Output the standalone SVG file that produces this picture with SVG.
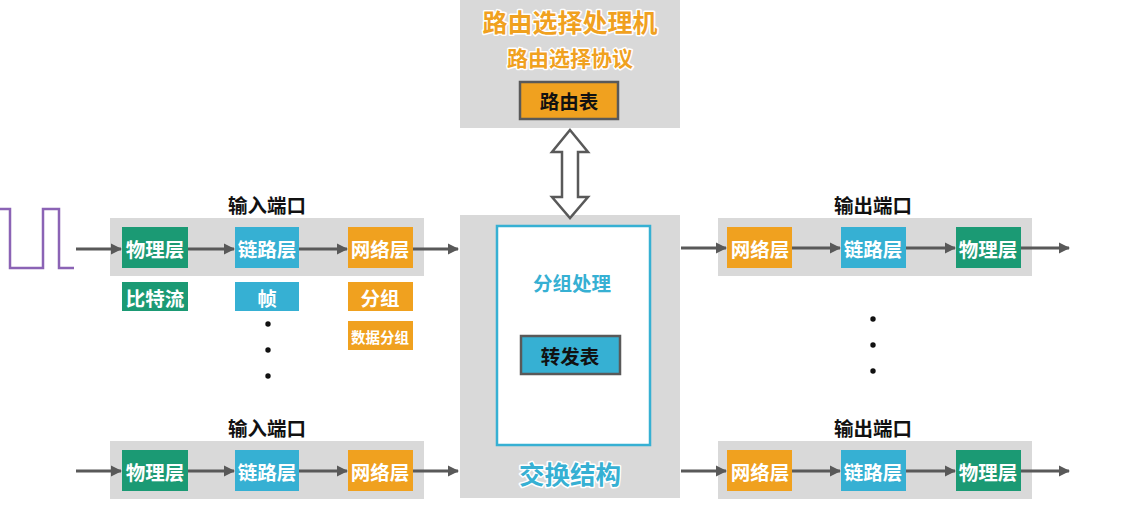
<svg xmlns="http://www.w3.org/2000/svg" width="1145" height="505" viewBox="0 0 1145 505">
<defs>
<style>
text{font-family:"Noto Sans CJK SC","Noto Sans",sans-serif;font-weight:bold;text-anchor:middle;dominant-baseline:central}
.port{fill:#d9d9d9}
.g{fill:#1b9a74}
.b{fill:#36b0d3}
.o{fill:#f0a11f}
.wt{fill:#ffffff;font-size:19.5px}
.sm{font-size:14.5px}
.lbl{fill:#111;font-size:19.5px}
.conn{stroke:#595959;stroke-width:2.8;fill:none;marker-end:url(#ah)}
.glowO{fill:#f0a11f;stroke:#ffffff;stroke-width:3;paint-order:stroke;stroke-linejoin:round}
.glowB{fill:#36b0d3;stroke:#ffffff;stroke-width:3;paint-order:stroke;stroke-linejoin:round}
.tbl{stroke:#595959;stroke-width:2.5}
.dot{fill:#111}
</style>
<marker id="ah" viewBox="0 0 10 10" refX="9" refY="5" markerWidth="4" markerHeight="4" orient="auto" markerUnits="strokeWidth">
<path d="M0,0 L10,5 L0,10 z" fill="#595959"/>
</marker>
</defs>
<rect width="1145" height="505" fill="#ffffff"/>

<!-- signal waveform -->
<path id="signal" d="M0,209 H10 V268 H43 V209 H59 V268 H74" fill="none" stroke="#8b63b5" stroke-width="2.5"/>

<!-- routing processor -->
<g id="router">
<rect x="460" y="0" width="220" height="128" class="port"/>
<text x="570" y="21" class="glowO" font-size="25">路由选择处理机</text>
<text x="570" y="57" class="glowO" font-size="21">路由选择协议</text>
<rect x="520" y="82" width="98" height="37" class="o tbl"/>
<text x="569" y="100" font-size="19.5" fill="#111">路由表</text>
</g>

<!-- switch fabric -->
<g id="fabric">
<rect x="460" y="215" width="220" height="283" class="port"/>
<rect x="497" y="226" width="153" height="219" fill="#ffffff" stroke="#36b0d3" stroke-width="2.5"/>
<text x="572" y="282" class="glowB" font-size="19.5">分组处理</text>
<rect x="521" y="336" width="99" height="38" class="b tbl"/>
<text x="570" y="355" font-size="19.5" fill="#111">转发表</text>
<text x="570" y="472" class="glowB" font-size="25.5">交换结构</text>
</g>

<!-- input port 1 -->
<g id="in1">
<text x="267" y="204" class="lbl">输入端口</text>
<rect x="110" y="218" width="314" height="58" class="port"/>
<rect x="122" y="227" width="66" height="41" class="g"/>
<text x="155" y="248" class="wt">物理层</text>
<rect x="235" y="227" width="64" height="41" class="b"/>
<text x="267" y="248" class="wt">链路层</text>
<rect x="348" y="227" width="65" height="41" class="o"/>
<text x="380" y="248" class="wt">网络层</text>
</g>

<g id="in1-labels">
<rect x="122" y="282" width="66" height="29" class="g"/>
<text x="155" y="297" class="wt">比特流</text>
<rect x="235" y="282" width="64" height="29" class="b"/>
<text x="267" y="297" class="wt">帧</text>
<rect x="348" y="282" width="65" height="29" class="o"/>
<text x="380" y="297" class="wt">分组</text>
<rect x="348" y="321" width="65" height="29" class="o"/>
<text x="380" y="336" class="wt sm">数据分组</text>
<circle cx="268" cy="324" r="2.7" class="dot"/>
<circle cx="268" cy="350" r="2.7" class="dot"/>
<circle cx="268" cy="376" r="2.7" class="dot"/>
</g>

<!-- input port 2 -->
<g id="in2">
<text x="267" y="427" class="lbl">输入端口</text>
<rect x="110" y="441" width="314" height="58" class="port"/>
<rect x="122" y="450" width="66" height="41" class="g"/>
<text x="155" y="471" class="wt">物理层</text>
<rect x="235" y="450" width="64" height="41" class="b"/>
<text x="267" y="471" class="wt">链路层</text>
<rect x="348" y="450" width="65" height="41" class="o"/>
<text x="380" y="471" class="wt">网络层</text>
</g>

<!-- output port 1 -->
<g id="out1">
<text x="873" y="204" class="lbl">输出端口</text>
<rect x="718" y="218" width="314" height="58" class="port"/>
<rect x="727" y="227" width="65" height="41" class="o"/>
<text x="760" y="248" class="wt">网络层</text>
<rect x="841" y="227" width="65" height="41" class="b"/>
<text x="873" y="248" class="wt">链路层</text>
<rect x="956" y="227" width="65" height="41" class="g"/>
<text x="988" y="248" class="wt">物理层</text>
</g>

<g id="out-dots">
<circle cx="873" cy="319" r="2.7" class="dot"/>
<circle cx="873" cy="345" r="2.7" class="dot"/>
<circle cx="873" cy="371" r="2.7" class="dot"/>
</g>

<!-- output port 2 -->
<g id="out2">
<text x="873" y="427" class="lbl">输出端口</text>
<rect x="718" y="441" width="314" height="58" class="port"/>
<rect x="727" y="450" width="65" height="41" class="o"/>
<text x="760" y="471" class="wt">网络层</text>
<rect x="841" y="450" width="65" height="41" class="b"/>
<text x="873" y="471" class="wt">链路层</text>
<rect x="956" y="450" width="65" height="41" class="g"/>
<text x="988" y="471" class="wt">物理层</text>
</g>

<!-- connectors -->
<g id="connectors">
<path d="M570,130 L588,152 L578,152 L578,197 L588,197 L570,218 L552,197 L562,197 L562,152 L552,152 Z" fill="#ffffff" stroke="#595959" stroke-width="2.5" stroke-linejoin="miter"/>
<line x1="76" y1="249" x2="121" y2="249" class="conn"/>
<line x1="188" y1="249" x2="234" y2="249" class="conn"/>
<line x1="299" y1="249" x2="347" y2="249" class="conn"/>
<line x1="413" y1="249" x2="458" y2="249" class="conn"/>
<line x1="76" y1="471" x2="121" y2="471" class="conn"/>
<line x1="188" y1="471" x2="234" y2="471" class="conn"/>
<line x1="299" y1="471" x2="347" y2="471" class="conn"/>
<line x1="413" y1="471" x2="458" y2="471" class="conn"/>
<line x1="681" y1="248" x2="726" y2="248" class="conn"/>
<line x1="792" y1="248" x2="840" y2="248" class="conn"/>
<line x1="906" y1="248" x2="955" y2="248" class="conn"/>
<line x1="1021" y1="248" x2="1069" y2="248" class="conn"/>
<line x1="681" y1="471" x2="726" y2="471" class="conn"/>
<line x1="792" y1="471" x2="840" y2="471" class="conn"/>
<line x1="906" y1="471" x2="955" y2="471" class="conn"/>
<line x1="1021" y1="471" x2="1069" y2="471" class="conn"/>
</g>
</svg>
